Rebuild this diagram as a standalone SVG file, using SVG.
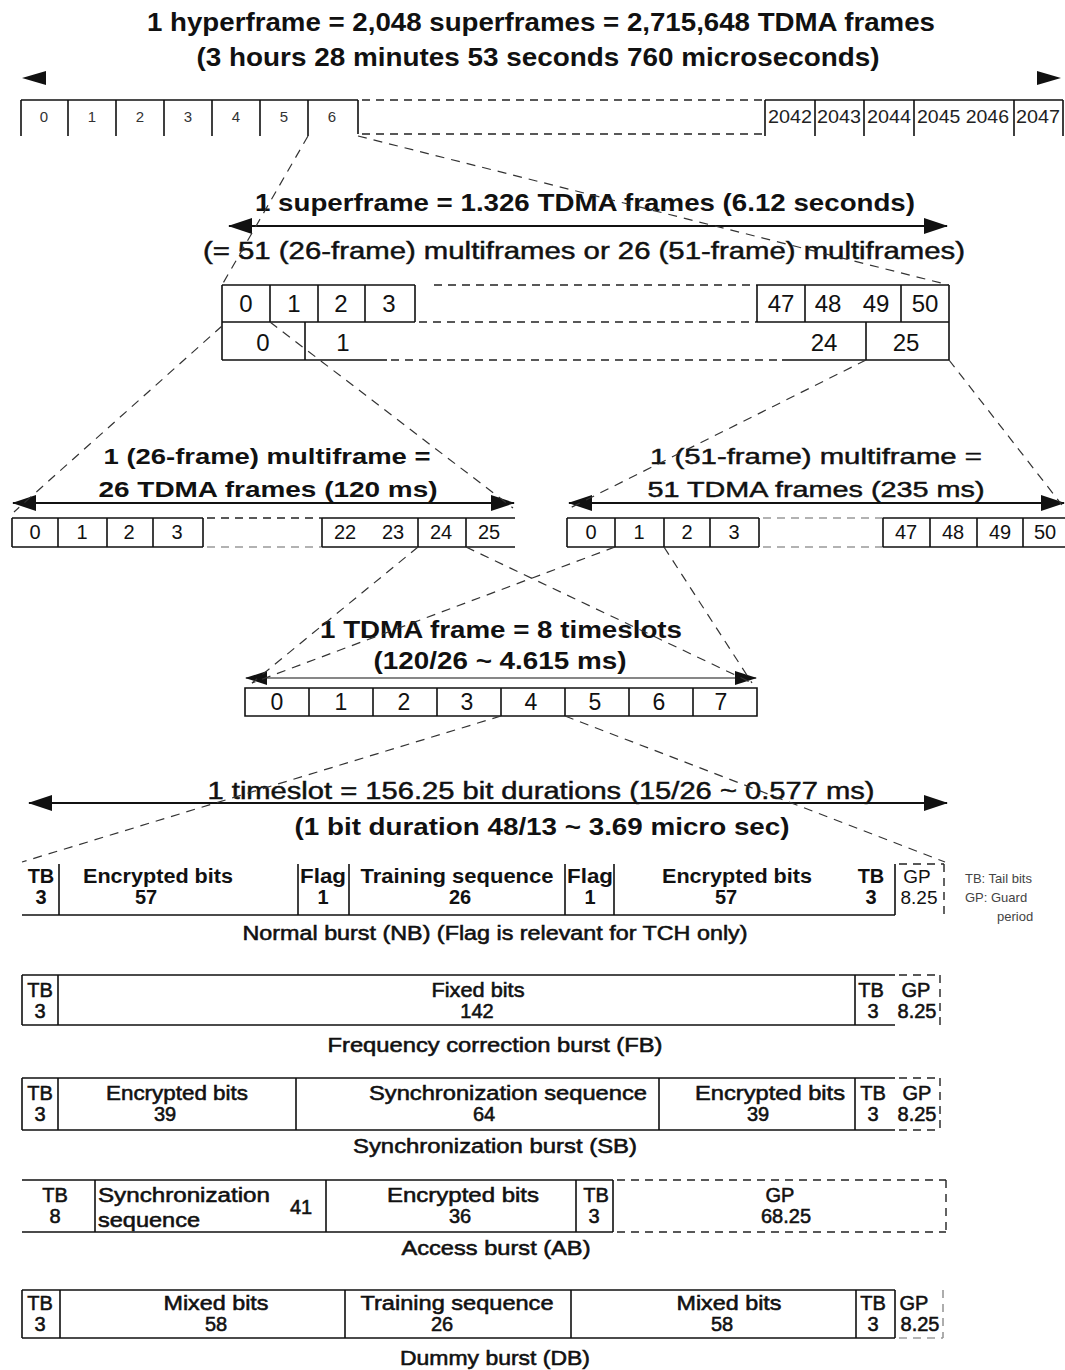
<svg xmlns="http://www.w3.org/2000/svg" width="1065" height="1370" viewBox="0 0 1065 1370">
<style>
text { font-family: "Liberation Sans", Arial, sans-serif; fill: #111; }
.b { font-weight: bold; }
.m { stroke: #111; stroke-width: 0.45; }
.c { text-anchor: middle; }
.box { fill: none; stroke: #111; stroke-width: 1.6; }
.dk { fill: none; stroke: #222; stroke-width: 1.4; stroke-dasharray: 8 6; }
.dg { fill: none; stroke: #999; stroke-width: 1.6; stroke-dasharray: 8 6; }
.arr { fill: none; stroke: #111; stroke-width: 1.8; marker-start: url(#ah); marker-end: url(#ah); }
.arrt { fill: none; stroke: #111; stroke-width: 1.1; marker-start: url(#ah2); marker-end: url(#ah2); }
.conn { fill: none; stroke: #333; stroke-width: 1.2; stroke-dasharray: 9 7; }
.hl { font-size: 15px; fill: #333; }
.hr { font-size: 18px; fill: #222; }
.sl { font-size: 24px; }
.ml { font-size: 20px; }
.tl { font-size: 23px; }
.nb { font-size: 20px; font-weight: bold; }
.bl { font-size: 20px; stroke: #111; stroke-width: 0.55; }
.gp { font-size: 19px; }
.cap { font-size: 20px; stroke: #111; stroke-width: 0.55; }
.lg { font-size: 13px; fill: #444; }
</style>
<defs>
<marker id="ah" viewBox="0 0 24 16" refX="23" refY="8" markerWidth="24" markerHeight="16" markerUnits="userSpaceOnUse" orient="auto-start-reverse">
<path d="M0,0 L24,8 L0,16 z" fill="#111"/>
</marker>
<marker id="ah2" viewBox="0 0 22 14" refX="21" refY="7" markerWidth="22" markerHeight="14" markerUnits="userSpaceOnUse" orient="auto-start-reverse">
<path d="M0,0 L22,7 L0,14 z" fill="#111"/>
</marker>
</defs>
<rect width="1065" height="1370" fill="#fff"/>

<g id="hyperframe">
<text class="b c" x="541" y="31" font-size="25" textLength="788" lengthAdjust="spacingAndGlyphs">1 hyperframe = 2,048 superframes = 2,715,648 TDMA frames</text>
<text class="b c" x="538" y="66" font-size="25" textLength="683" lengthAdjust="spacingAndGlyphs">(3 hours 28 minutes 53 seconds 760 microseconds)</text>
<path d="M22,78 L46,71 L46,85 z" fill="#111"/>
<path d="M1061,78 L1037,71 L1037,85 z" fill="#111"/>
<path class="box" d="M21,100 H358 M21,100 V136 M68,100 V136 M116,100 V136 M164,100 V136 M212,100 V136 M260,100 V136 M308,100 V136 M358,100 V134"/>
<path class="dk" d="M362,100 H765 M362,134 H765"/>
<path class="box" d="M765,100 H1063 M765,100 V136 M815,100 V136 M864,100 V136 M914,100 V136 M1014,100 V136 M1063,100 V136"/>
<text class="hl c" x="44" y="122">0</text>
<text class="hl c" x="92" y="122">1</text>
<text class="hl c" x="140" y="122">2</text>
<text class="hl c" x="188" y="122">3</text>
<text class="hl c" x="236" y="122">4</text>
<text class="hl c" x="284" y="122">5</text>
<text class="hl c" x="332" y="122">6</text>
<text class="hr c" x="790" y="123" textLength="44" lengthAdjust="spacingAndGlyphs">2042</text>
<text class="hr c" x="839" y="123" textLength="44" lengthAdjust="spacingAndGlyphs">2043</text>
<text class="hr c" x="889" y="123" textLength="44" lengthAdjust="spacingAndGlyphs">2044</text>
<text class="hr c" x="963" y="123" textLength="92" lengthAdjust="spacingAndGlyphs">2045 2046</text>
<text class="hr c" x="1038" y="123" textLength="44" lengthAdjust="spacingAndGlyphs">2047</text>
</g>

<g id="superframe">
<text class="b c" x="585" y="211" font-size="24" textLength="660" lengthAdjust="spacingAndGlyphs">1 superframe = 1.326 TDMA frames (6.12 seconds)</text>
<path class="arr" d="M229,226 H947"/>
<text class="c m" x="584" y="259" font-size="23" textLength="762" lengthAdjust="spacingAndGlyphs">(= 51 (26-frame) multiframes or 26 (51-frame) multiframes)</text>
<path class="box" d="M222,285 H415 M222,322 H415 M222,360 H387 M222,285 V360 M270,285 V322 M318,285 V322 M365,285 V322 M415,285 V322 M305,322 V360"/>
<path class="dk" d="M434,285 H757 M419,322 H757 M391,360 H782"/>
<path class="box" d="M757,285 H949 M757,322 H949 M782,360 H949 M757,285 V322 M805,285 V322 M901,285 V322 M949,285 V360 M866,322 V360"/>
<text class="sl c" x="246" y="312">0</text>
<text class="sl c" x="294" y="312">1</text>
<text class="sl c" x="341" y="312">2</text>
<text class="sl c" x="389" y="312">3</text>
<text class="sl c" x="781" y="312">47</text>
<text class="sl c" x="828" y="312">48</text>
<text class="sl c" x="876" y="312">49</text>
<text class="sl c" x="925" y="312">50</text>
<text class="sl c" x="263" y="351">0</text>
<text class="sl c" x="343" y="351">1</text>
<text class="sl c" x="824" y="351">24</text>
<text class="sl c" x="906" y="351">25</text>
</g>

<g id="multiframe26">
<text class="b c" x="267" y="464" font-size="22" textLength="327" lengthAdjust="spacingAndGlyphs">1 (26-frame) multiframe =</text>
<text class="b c" x="268" y="497" font-size="22" textLength="339" lengthAdjust="spacingAndGlyphs">26 TDMA frames (120 ms)</text>
<path class="arr" d="M13,503 H514"/>
<path class="box" d="M12,518 H203 M12,547 H203 M12,518 V547 M58,518 V547 M107,518 V547 M153,518 V547 M203,518 V547"/>
<path class="dk" d="M207,518 H322"/>
<path class="dg" d="M207,547 H322"/>
<path class="box" d="M322,518 H515 M322,547 H515 M322,518 V547 M418,518 V547 M466,518 V547"/>
<text class="ml c" x="35" y="539" fill="#666">0</text>
<text class="ml c" x="82" y="539">1</text>
<text class="ml c" x="129" y="539">2</text>
<text class="ml c" x="177" y="539">3</text>
<text class="ml c" x="345" y="539">22</text>
<text class="ml c" x="393" y="539">23</text>
<text class="ml c" x="441" y="539">24</text>
<text class="ml c" x="489" y="539">25</text>
</g>

<g id="multiframe51">
<text class="c m" x="816" y="464" font-size="22" textLength="332" lengthAdjust="spacingAndGlyphs">1 (51-frame) multiframe =</text>
<text class="c m" x="816" y="497" font-size="22" textLength="337" lengthAdjust="spacingAndGlyphs">51 TDMA frames (235 ms)</text>
<path class="arr" d="M569,503 H1064"/>
<path class="box" d="M567,518 H759 M567,547 H759 M567,518 V547 M615,518 V547 M664,518 V547 M710,518 V547 M759,518 V547"/>
<path class="dg" d="M763,518 H883 M763,547 H883"/>
<path class="box" d="M883,518 H1065 M883,547 H1065 M883,518 V547 M930,518 V547 M977,518 V547 M1023,518 V547"/>
<text class="ml c" x="591" y="539">0</text>
<text class="ml c" x="639" y="539" fill="#888">1</text>
<text class="ml c" x="687" y="539">2</text>
<text class="ml c" x="734" y="539">3</text>
<text class="ml c" x="906" y="539">47</text>
<text class="ml c" x="953" y="539">48</text>
<text class="ml c" x="1000" y="539">49</text>
<text class="ml c" x="1045" y="539">50</text>
</g>

<g id="tdma-frame">
<text class="b c" x="501" y="638" font-size="23" textLength="362" lengthAdjust="spacingAndGlyphs">1 TDMA frame = 8 timeslots</text>
<text class="b c" x="500" y="669" font-size="23" textLength="253" lengthAdjust="spacingAndGlyphs">(120/26 ~ 4.615 ms)</text>
<path class="arrt" d="M246,678 H756"/>
<path class="box" d="M245,688 H757 V716 H245 z M309,688 V716 M373,688 V716 M437,688 V716 M501,688 V716 M565,688 V716 M629,688 V716 M693,688 V716"/>
<text class="tl c" x="277" y="710">0</text>
<text class="tl c" x="341" y="710">1</text>
<text class="tl c" x="404" y="710">2</text>
<text class="tl c" x="467" y="710">3</text>
<text class="tl c" x="531" y="710">4</text>
<text class="tl c" x="595" y="710">5</text>
<text class="tl c" x="659" y="710">6</text>
<text class="tl c" x="721" y="710">7</text>
</g>

<g id="timeslot">
<text class="c m" x="541" y="799" font-size="23" textLength="667" lengthAdjust="spacingAndGlyphs">1 timeslot = 156.25 bit durations (15/26 ~ 0.577 ms)</text>
<path class="arr" d="M29,803 H947"/>
<text class="b c" x="542" y="835" font-size="23" textLength="495" lengthAdjust="spacingAndGlyphs">(1 bit duration 48/13 ~ 3.69 micro sec)</text>
</g>

<g id="normal-burst">
<path class="box" d="M22,915 H895 M59,864 V915 M298,864 V915 M349,864 V915 M565,864 V915 M614,864 V915 M895,864 V915"/>
<path class="dk" d="M899,864 H944 M944,864 V915"/>
<text class="nb c" x="41" y="883">TB</text>
<text class="nb c" x="41" y="904">3</text>
<text class="nb c" x="158" y="883" textLength="150" lengthAdjust="spacingAndGlyphs">Encrypted bits</text>
<text class="nb c" x="146" y="904">57</text>
<text class="nb c" x="323" y="883" textLength="46" lengthAdjust="spacingAndGlyphs">Flag</text>
<text class="nb c" x="323" y="904">1</text>
<text class="nb c" x="457" y="883" textLength="193" lengthAdjust="spacingAndGlyphs">Training sequence</text>
<text class="nb c" x="460" y="904">26</text>
<text class="nb c" x="590" y="883" textLength="46" lengthAdjust="spacingAndGlyphs">Flag</text>
<text class="nb c" x="590" y="904">1</text>
<text class="nb c" x="737" y="883" textLength="150" lengthAdjust="spacingAndGlyphs">Encrypted bits</text>
<text class="nb c" x="726" y="904">57</text>
<text class="nb c" x="871" y="883">TB</text>
<text class="nb c" x="871" y="904">3</text>
<text class="gp c" x="917" y="883">GP</text>
<text class="gp c" x="919" y="904">8.25</text>
<text class="cap c" x="495" y="940" textLength="505" lengthAdjust="spacingAndGlyphs">Normal burst (NB) (Flag is relevant for TCH only)</text>
</g>

<g id="legend">
<text class="lg" x="965" y="883">TB: Tail bits</text>
<text class="lg" x="965" y="902">GP: Guard</text>
<text class="lg" x="997" y="921">period</text>
</g>

<g id="frequency-correction-burst">
<path class="box" d="M22,975 H895 M22,1025 H895 M22,975 V1025 M58,975 V1025 M855,975 V1025"/>
<path class="dk" d="M899,975 H940 M940,975 V1025"/>
<text class="bl c" x="40" y="997">TB</text>
<text class="bl c" x="40" y="1018">3</text>
<text class="bl c" x="478" y="997" textLength="93" lengthAdjust="spacingAndGlyphs">Fixed bits</text>
<text class="bl c" x="477" y="1018">142</text>
<text class="bl c" x="871" y="997">TB</text>
<text class="bl c" x="873" y="1018">3</text>
<text class="bl c" x="916" y="997">GP</text>
<text class="bl c" x="917" y="1018">8.25</text>
<text class="cap c" x="495" y="1052" textLength="335" lengthAdjust="spacingAndGlyphs">Frequency correction burst (FB)</text>
</g>

<g id="synchronization-burst">
<path class="box" d="M22,1078 H895 M22,1130 H895 M22,1078 V1130 M58,1078 V1130 M296,1078 V1130 M659,1078 V1130 M855,1078 V1130"/>
<path class="dk" d="M899,1078 H940 M899,1130 H940 M940,1078 V1130"/>
<text class="bl c" x="40" y="1100">TB</text>
<text class="bl c" x="40" y="1121">3</text>
<text class="bl c" x="177" y="1100" textLength="142" lengthAdjust="spacingAndGlyphs">Encrypted bits</text>
<text class="bl c" x="165" y="1121">39</text>
<text class="bl c" x="508" y="1100" textLength="278" lengthAdjust="spacingAndGlyphs">Synchronization sequence</text>
<text class="bl c" x="484" y="1121">64</text>
<text class="bl c" x="770" y="1100" textLength="150" lengthAdjust="spacingAndGlyphs">Encrypted bits</text>
<text class="bl c" x="758" y="1121">39</text>
<text class="bl c" x="873" y="1100">TB</text>
<text class="bl c" x="873" y="1121">3</text>
<text class="bl c" x="917" y="1100">GP</text>
<text class="bl c" x="917" y="1121">8.25</text>
<text class="cap c" x="495" y="1153" textLength="284" lengthAdjust="spacingAndGlyphs">Synchronization burst (SB)</text>
</g>

<g id="access-burst">
<path class="box" d="M22,1180 H613 M22,1232 H613 M95,1180 V1232 M326,1180 V1232 M576,1180 V1232 M613,1180 V1232"/>
<path class="dk" d="M617,1180 H946 M617,1232 H946 M946,1180 V1232"/>
<text class="bl c" x="55" y="1202">TB</text>
<text class="bl c" x="55" y="1223">8</text>
<text class="bl" x="98" y="1202" textLength="172" lengthAdjust="spacingAndGlyphs">Synchronization</text>
<text class="bl" x="98" y="1227" textLength="102" lengthAdjust="spacingAndGlyphs">sequence</text>
<text class="bl c" x="301" y="1214">41</text>
<text class="bl c" x="463" y="1202" textLength="152" lengthAdjust="spacingAndGlyphs">Encrypted bits</text>
<text class="bl c" x="460" y="1223">36</text>
<text class="bl c" x="596" y="1202">TB</text>
<text class="bl c" x="594" y="1223">3</text>
<text class="bl c" x="780" y="1202">GP</text>
<text class="bl c" x="786" y="1223">68.25</text>
<text class="cap c" x="496" y="1255" textLength="189" lengthAdjust="spacingAndGlyphs">Access burst (AB)</text>
</g>

<g id="dummy-burst">
<path class="box" d="M22,1290 H895 M22,1338 H895 M22,1290 V1338 M60,1290 V1338 M345,1290 V1338 M571,1290 V1338 M856,1290 V1338 M895,1290 V1338"/>
<path class="dg" d="M943,1290 V1338 M899,1338 H943"/>
<text class="bl c" x="40" y="1310">TB</text>
<text class="bl c" x="40" y="1331">3</text>
<text class="bl c" x="216" y="1310" textLength="105" lengthAdjust="spacingAndGlyphs">Mixed bits</text>
<text class="bl c" x="216" y="1331">58</text>
<text class="bl c" x="457" y="1310" textLength="193" lengthAdjust="spacingAndGlyphs">Training sequence</text>
<text class="bl c" x="442" y="1331">26</text>
<text class="bl c" x="729" y="1310" textLength="105" lengthAdjust="spacingAndGlyphs">Mixed bits</text>
<text class="bl c" x="722" y="1331">58</text>
<text class="bl c" x="873" y="1310">TB</text>
<text class="bl c" x="873" y="1331">3</text>
<text class="bl c" x="914" y="1310">GP</text>
<text class="bl c" x="920" y="1331">8.25</text>
<text class="cap c" x="495" y="1365" textLength="190" lengthAdjust="spacingAndGlyphs">Dummy burst (DB)</text>
</g>

<g id="connectors">
<path class="conn" d="M308,136 L222,285"/>
<path class="conn" d="M358,136 L949,285"/>
<path class="conn" d="M222,326 L14,512"/>
<path class="conn" d="M270,322 L513,508"/>
<path class="conn" d="M866,360 L570,508"/>
<path class="conn" d="M949,360 L1062,505"/>
<path class="conn" d="M418,547 L252,683"/>
<path class="conn" d="M466,547 L752,683"/>
<path class="conn" d="M615,547 L252,683"/>
<path class="conn" d="M664,547 L752,683"/>
<path class="conn" d="M501,716 L22,862"/>
<path class="conn" d="M565,716 L945,862"/>
</g>
</svg>
